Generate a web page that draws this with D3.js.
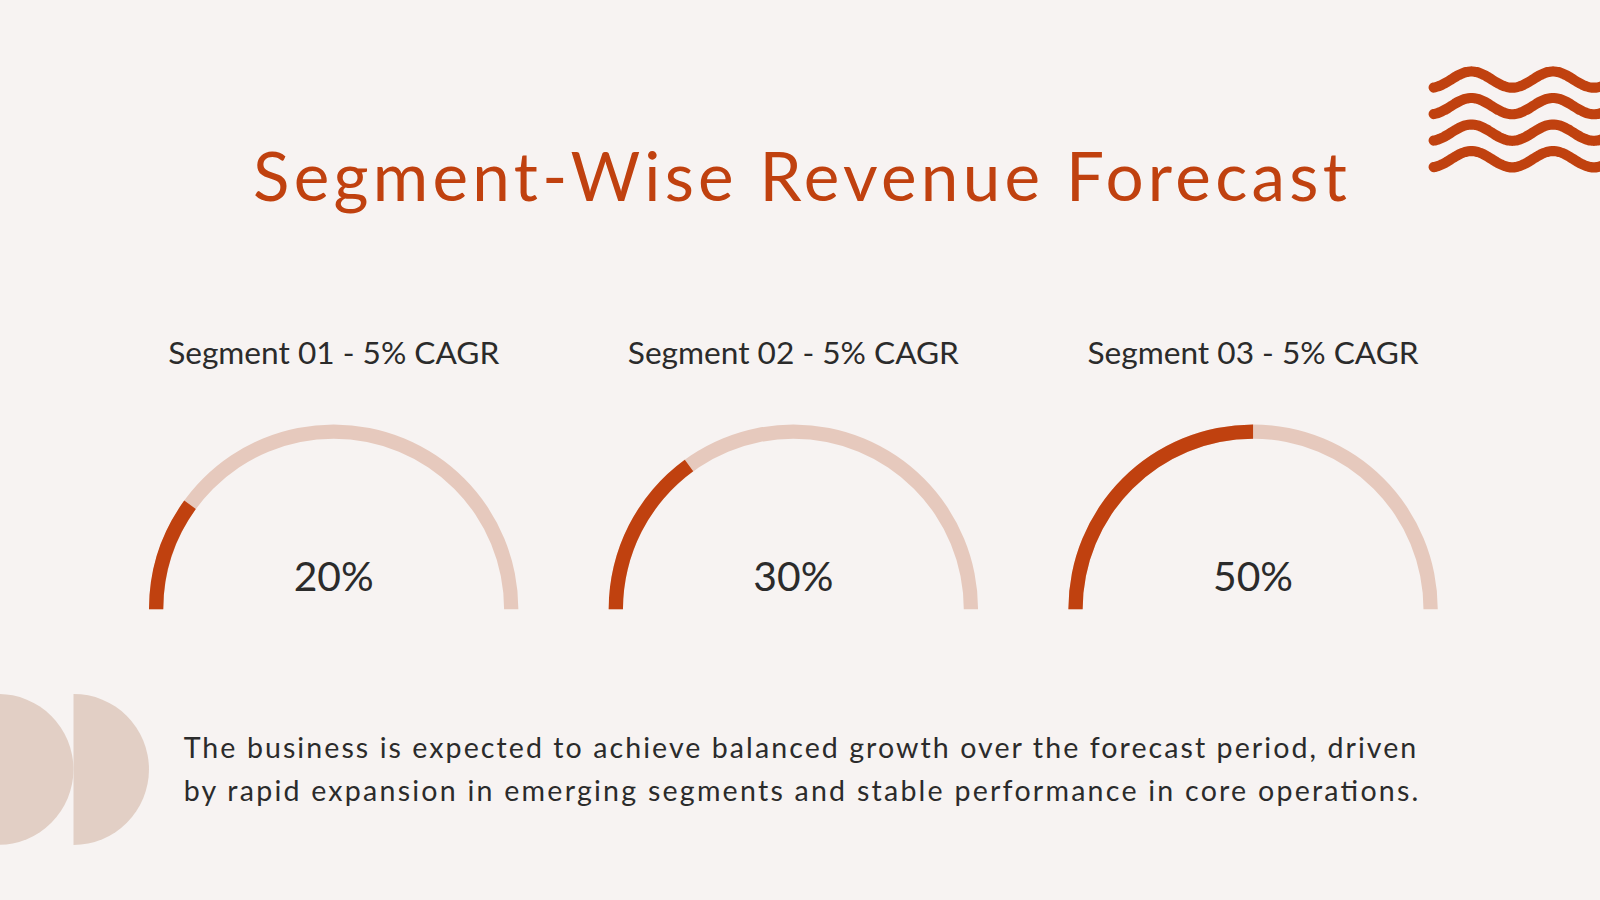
<!DOCTYPE html><html><head><meta charset="utf-8"><script src="https://cdn.jsdelivr.net/npm/d3@7"></script>
<style>body{margin:0;background:#f7f3f2}</style></head><body><svg id="c" width="1600" height="900" viewBox="0 0 1568 882"></svg>
<script>
const segments=["Segment 01 - 5% CAGR","Segment 02 - 5% CAGR","Segment 03 - 5% CAGR"];
const values=[20,30,50];
const valueLabels=["20%","30%","50%"];
const bodyLines=["The business is expected to achieve balanced growth over the forecast period, driven","by rapid expansion in emerging segments and stable performance in core operations."];
const red="#c0410f", light="#e6c9bd", ink="#2b2b2b";
const svg=d3.select("#c");
svg.append("rect").attr("width",1568).attr("height",882).attr("fill","#f7f3f2");
// waves
const waveRows=[78,104,130,156];
const wx=d3.range(1405,1575,2);
waveRows.forEach(y0=>{
  svg.append("path").attr("d",d3.line().curve(d3.curveBasis)(wx.map(x=>[x,y0-8*Math.cos(2*Math.PI*(x-1442)/80)])))
   .attr("fill","none").attr("stroke",red).attr("stroke-width",10).attr("stroke-linecap","round");
});
// half discs
const disc=d3.arc().innerRadius(0).outerRadius(74).startAngle(0).endAngle(Math.PI);
svg.append("path").attr("d",d3.arc().innerRadius(0).outerRadius(74).startAngle(0).endAngle(2*Math.PI)()).attr("transform","translate(-2,754)").attr("fill","#e2cfc5");
svg.append("path").attr("d",disc()).attr("transform","translate(72,754)").attr("fill","#e2cfc5");
svg.append("text").attr("x",784).attr("y",197).attr("text-anchor","middle").attr("font-family","Lato").attr("font-size",66).attr("fill",red).attr("textLength",1072).text("Segment-Wise Revenue Forecast");
const x=d3.scalePoint().domain(segments).range([327,1228]);
const ang=d3.scaleLinear().domain([0,100]).range([-Math.PI/2,Math.PI/2]);
const arc=d3.arc().innerRadius(167).outerRadius(181);
segments.forEach((s,i)=>{
  const g=svg.append("g").attr("transform",`translate(${x(s)},597)`);
  g.append("path").attr("d",arc({startAngle:ang(0),endAngle:ang(100)})).attr("fill",light);
  g.append("path").attr("d",arc({startAngle:ang(0),endAngle:ang(values[i])})).attr("fill",red);
  g.append("text").attr("y",-18).attr("text-anchor","middle").attr("font-family","Lato").attr("font-size",40).attr("fill",ink).text(valueLabels[i]);
  svg.append("text").attr("x",x(s)).attr("y",357).attr("text-anchor","middle").attr("font-family","Lato").attr("font-size",31).attr("fill",ink).text(s);
});
bodyLines.forEach((t,i)=>svg.append("text").attr("x",180).attr("y",743+i*42).attr("font-family","Lato").attr("font-size",28).attr("fill",ink).attr("textLength",i?1210:1208).text(t));
</script></body></html>
